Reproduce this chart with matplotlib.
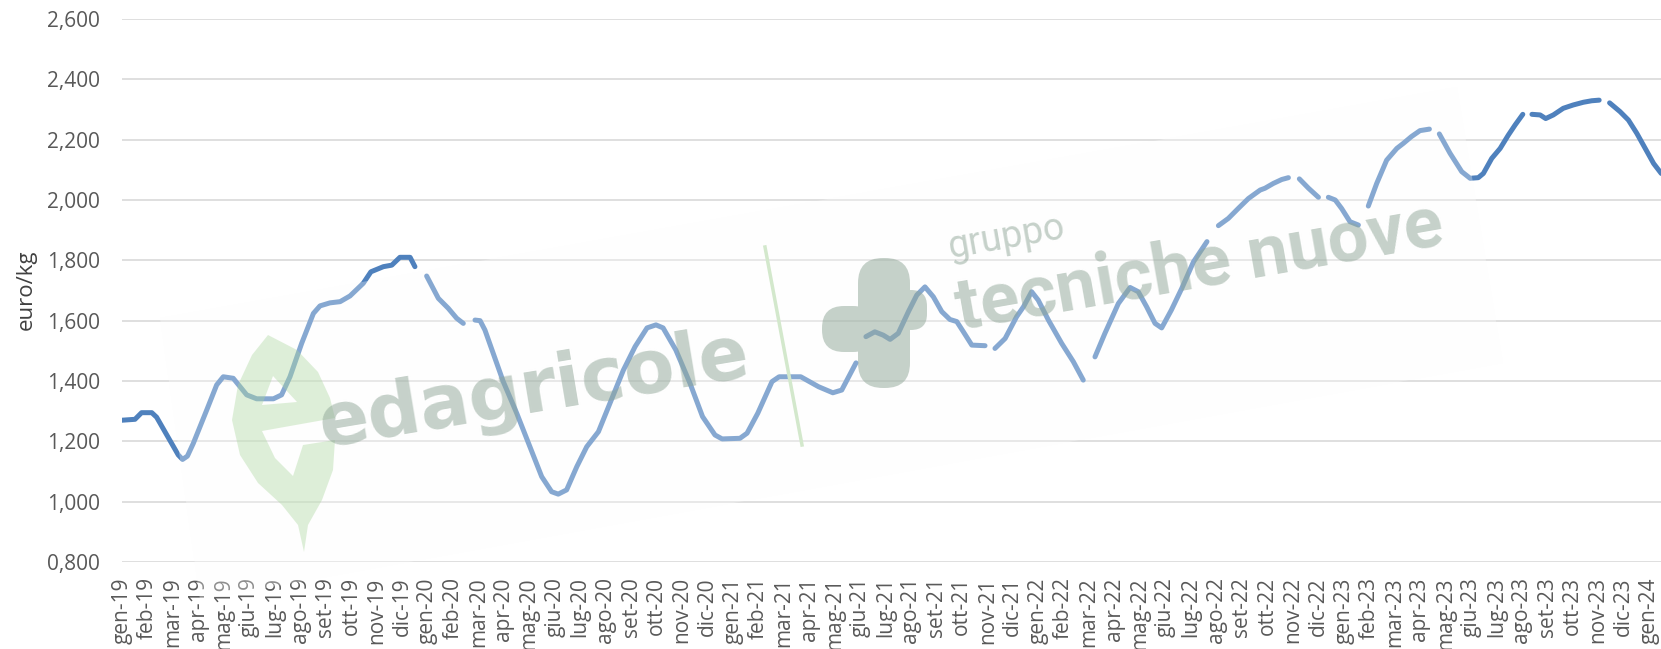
import numpy as np
import matplotlib
matplotlib.use('Agg')
import matplotlib.pyplot as plt
from matplotlib.patches import Polygon, FancyBboxPatch, PathPatch
from matplotlib.path import Path
from matplotlib.lines import Line2D
from matplotlib.transforms import IdentityTransform

# month labels on the x axis (gen-19 ... gen-24)
months = ['gen', 'feb', 'mar', 'apr', 'mag', 'giu', 'lug', 'ago', 'set', 'ott', 'nov', 'dic']
tick_labels = [f'{mo}-{yy}' for yy in range(19, 24) for mo in months] + ['gen-24']

# weekly quotations
# t_months = months elapsed since gen-19, price = euro/kg, None = week without quotation
t_months = [0.0, 0.51, 0.77, 1.17, 1.36, 1.95, 2.21, 2.38, 2.57, 2.80, 3.33, 3.72, 3.98, 4.37,
            4.64, 4.90, 5.29, 5.95, 6.27, 6.60, 7.06, 7.52, 7.78, 8.17, 8.57, 8.96, 9.48, 9.78,
            10.27, 10.60, 10.92, 11.32, 11.51, 11.75,
            11.97, 12.43, 12.82, 13.15, 13.41, 13.65,
            13.87, 14.07, 14.26, 14.98, 15.51, 16.03, 16.49, 16.88, 17.14, 17.47, 17.87, 18.26,
            18.72, 19.17, 19.70, 20.16, 20.63, 20.98, 21.26, 21.76, 22.32, 22.81, 23.30, 23.58,
            24.28, 24.56, 24.98, 25.54, 25.82, 26.67, 27.37, 27.93, 28.28, 28.84, 29.05,
            29.23, 29.58, 29.91, 30.18, 30.50, 30.90, 31.23, 31.55, 31.88, 32.21, 32.53, 32.80,
            33.06, 33.39, 33.91, 34.10,
            34.30, 34.70, 35.15, 35.42, 35.74, 36.00, 36.40, 36.92, 37.38, 37.77, 38.00,
            38.23, 38.62, 39.15, 39.61, 39.93, 40.26, 40.59, 40.85, 41.23, 41.64, 42.10, 42.63, 42.85,
            43.08, 43.47, 43.86, 44.26, 44.72, 44.91, 45.24, 45.57, 45.83, 46.05,
            46.26, 46.62, 47.01, 47.20,
            47.40, 47.67, 47.92, 48.25, 48.58, 48.78,
            48.97, 49.30, 49.69, 50.09, 50.35, 50.66, 51.00, 51.37, 51.55,
            51.76, 52.18, 52.64, 52.97, 53.29, 53.49, 53.82, 54.15, 54.47, 54.74, 55.04, 55.22,
            55.40, 55.72, 55.94, 56.24, 56.63, 57.02, 57.42, 57.75, 58.04, 58.25,
            58.45, 58.86, 59.19, 59.52, 59.85, 60.18, 60.48]
price = [1.270, 1.273, 1.295, 1.295, 1.280, 1.193, 1.155, 1.140, 1.151, 1.193, 1.304, 1.387, 1.414, 1.409,
         1.381, 1.354, 1.341, 1.341, 1.354, 1.414, 1.525, 1.624, 1.649, 1.659, 1.663, 1.682, 1.724, 1.762,
         1.779, 1.784, 1.810, 1.810, 1.779, None,
         1.748, 1.674, 1.641, 1.608, 1.591, None,
         1.602, 1.600, 1.569, 1.398, 1.293, 1.182, 1.083, 1.033, 1.025, 1.039, 1.116, 1.182,
         1.232, 1.326, 1.436, 1.514, 1.576, 1.586, 1.576, 1.503, 1.392, 1.282, 1.221, 1.208,
         1.210, 1.227, 1.293, 1.398, 1.414, 1.414, 1.381, 1.361, 1.370, 1.460, None,
         1.547, 1.563, 1.552, 1.538, 1.558, 1.630, 1.685, 1.712, 1.679, 1.630, 1.604, 1.597,
         1.563, 1.519, 1.517, None,
         1.508, 1.541, 1.613, 1.646, 1.696, 1.668, 1.602, 1.525, 1.464, 1.403, None,
         1.480, 1.558, 1.657, 1.710, 1.696, 1.646, 1.591, 1.576, 1.635, 1.707, 1.795, 1.862, None,
         1.915, 1.939, 1.972, 2.005, 2.033, 2.039, 2.055, 2.068, 2.074, None,
         2.070, 2.039, 2.009, None,
         2.009, 2.000, 1.972, 1.928, 1.917, None,
         1.980, 2.055, 2.132, 2.171, 2.188, 2.210, 2.230, 2.235, None,
         2.219, 2.155, 2.094, 2.072, 2.074, 2.088, 2.138, 2.171, 2.215, 2.249, 2.284, None,
         2.284, 2.282, 2.270, 2.282, 2.304, 2.315, 2.324, 2.329, 2.331, None,
         2.322, 2.293, 2.265, 2.221, 2.171, 2.121, 2.088]

W, H = 1661, 649
y_ticks = [0.8, 1.0, 1.2, 1.4, 1.6, 1.8, 2.0, 2.2, 2.4, 2.6]

plt.rcParams['font.family'] = ['Open Sans', 'DejaVu Sans']

fig = plt.figure(figsize=(W / 100, H / 100), dpi=100)
ax = fig.add_axes([122 / W, 1 - 562 / H, 1 - 122 / W, (562 - 19) / H])

values = np.array([np.nan if v is None else v for v in price])
ax.plot(t_months, values, color='#4f81bd', lw=3.6, solid_capstyle='round',
        solid_joinstyle='round', zorder=3)

ax.set_ylim(0.8, 2.6)
ax.set_yticks(y_ticks)
ax.set_yticklabels([f'{v:.3f}'.replace('.', ',') for v in y_ticks])
ax.set_xlim(0, 60.47)
ax.set_xticks(range(len(tick_labels)))
ax.set_xticklabels(tick_labels, rotation=90)
ax.tick_params(axis='y', length=0, pad=16, labelsize=15, labelcolor='#595959')
ax.tick_params(axis='x', length=0, pad=11, labelsize=15, labelcolor='#595959')
ax.grid(axis='y', color='#d9d9d9', lw=1.2)
ax.set_axisbelow(True)
for s in ax.spines.values():
    s.set_visible(False)

fig.text(26 / W, 1 - 290 / H, 'euro/kg', rotation=90, ha='center', va='center',
         fontsize=16, color='#404040')

# --- watermark (drawn in pixel coordinates, y measured from the top) ---
ID = IdentityTransform()


def px(pts):
    return [(x, H - y) for x, y in pts]


overlay = Polygon(px([(160, 318), (1457, 87), (1503, 363), (200, 600)]), closed=True,
                  transform=ID, facecolor='#fdfdfd', edgecolor='none', alpha=0.32, zorder=5)
fig.add_artist(overlay)

leaf_out = px([(268, 335), (297, 350), (318, 372), (330, 398), (335, 418), (262, 431),
               (275, 458), (293, 476), (303, 445), (335, 440), (333, 470), (322, 500),
               (308, 525), (304, 552), (298, 525), (282, 505), (258, 483), (240, 455),
               (232, 420), (238, 385), (252, 355), (268, 335)])
leaf_hole = px([(273, 376), (262, 405), (297, 402), (273, 376)])
verts = leaf_out + leaf_hole
codes = ([Path.MOVETO] + [Path.LINETO] * (len(leaf_out) - 2) + [Path.CLOSEPOLY] +
         [Path.MOVETO] + [Path.LINETO] * (len(leaf_hole) - 2) + [Path.CLOSEPOLY])
fig.add_artist(PathPatch(Path(verts, codes), transform=ID, facecolor='#a9d69c',
                         edgecolor='none', alpha=0.38, zorder=6))

(x1, y1), (x2, y2) = px([(765, 247), (802, 445)])
fig.add_artist(Line2D([x1, x2], [y1, y2], transform=ID, color='#d3e8cc', lw=2.5, zorder=6))

boxes = [FancyBboxPatch((858, H - 388), 52, 130, boxstyle='round,pad=0,rounding_size=25'),
         FancyBboxPatch((822, H - 352), 53, 46, boxstyle='round,pad=0,rounding_size=22'),
         FancyBboxPatch((895, H - 330), 32, 40, boxstyle='round,pad=0,rounding_size=16')]
blob = Path.make_compound_path(*[b.get_path() for b in boxes])
fig.add_artist(PathPatch(blob, transform=ID, facecolor='#8ea596', edgecolor='none',
                         alpha=0.5, zorder=6))

wm = dict(color='#8ea596', alpha=0.5, rotation_mode='anchor', ha='left', va='baseline', zorder=6)
fig.text(323 / W, 1 - 447 / H, 'edagricole', rotation=9.5, fontsize=53, fontweight='bold',
         family='DejaVu Sans', **wm)
fig.text(950 / W, 1 - 258 / H, 'gruppo', rotation=10, fontsize=27, family='Roboto', **wm)
fig.text(960 / W, 1 - 330 / H, 'tecniche nuove', rotation=10, fontsize=52, fontweight='bold',
         family='Roboto', **wm)

fig.savefig('out.png', dpi=100)
